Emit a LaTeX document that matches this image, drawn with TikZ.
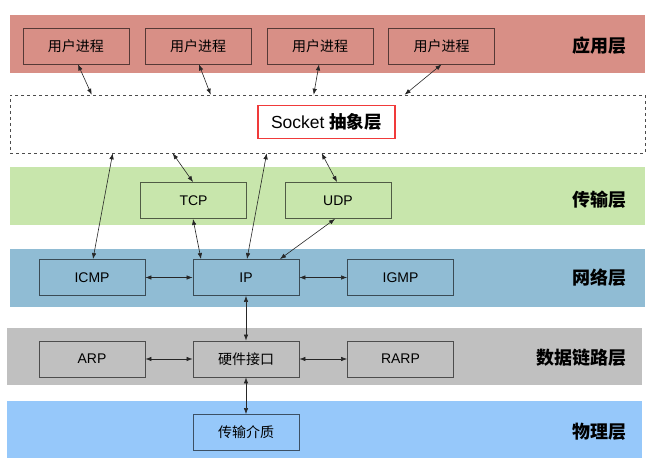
\documentclass[tikz,border=0pt]{standalone}
\usepackage{fontspec}
\setmainfont{Liberation Sans}
\newfontfamily\cjk{Noto Sans CJK SC}
\usetikzlibrary{arrows.meta}
\definecolor{appc}{RGB}{216,143,134}
\definecolor{trac}{RGB}{200,230,172}
\definecolor{netc}{RGB}{144,188,212}
\definecolor{dlc}{RGB}{192,192,192}
\definecolor{phyc}{RGB}{150,200,250}
\definecolor{sockred}{RGB}{240,58,58}
\begin{document}
\begin{tikzpicture}[x=1pt,y=-1pt,
  box/.style={draw=#1!40!black, fill=#1, line width=0.9pt, minimum width=106pt, minimum height=36pt, inner sep=0pt, font=\fontsize{14}{16}\selectfont},
  layer/.style={anchor=east, inner sep=0pt, font=\cjk\bfseries\fontsize{18}{20}\selectfont},
  link/.style={{Latex[length=6pt,width=4.5pt]}-{Latex[length=6pt,width=4.5pt]}, line width=0.6pt, black!85}
]
\useasboundingbox (0,0) rectangle (657,468);
% bands
\fill[appc] (10,15) rectangle (645,73);
\fill[trac] (10,167) rectangle (645,225);
\fill[netc] (10,249) rectangle (645,307);
\fill[dlc] (7,328) rectangle (642,385);
\fill[phyc] (7,401) rectangle (642,458);
% dashed socket layer
\node[draw=black!70, dashed, line width=0.6pt, minimum width=635pt, minimum height=58pt, inner sep=0pt] (dash) at (327.5,124) {};
\node[draw=sockred, fill=white, line width=1.6pt, minimum width=137pt, minimum height=33pt, inner sep=0pt, font=\fontsize{17.5}{20}\selectfont] (sock) at (326.5,122) {Socket {\cjk\bfseries 抽象层}};
% application
\node[box=appc] (u1) at (76,46) {\cjk 用户进程};
\node[box=appc] (u2) at (198,46) {\cjk 用户进程};
\node[box=appc] (u3) at (320,46) {\cjk 用户进程};
\node[box=appc] (u4) at (441.5,46) {\cjk 用户进程};
% transport
\node[box=trac] (tcp) at (193.5,200.5) {TCP};
\node[box=trac] (udp) at (338,200.5) {UDP};
% network
\node[box=netc] (icmp) at (92,277.5) {ICMP};
\node[box=netc] (ip) at (246,277.5) {IP};
\node[box=netc] (igmp) at (400.5,277.5) {IGMP};
% data link
\node[box=dlc] (arp) at (92,359) {ARP};
\node[box=dlc] (hw) at (246,359) {\cjk 硬件接口};
\node[box=dlc] (rarp) at (400.5,359) {RARP};
% physical
\node[box=phyc] (phy) at (246,432.5) {\cjk 传输介质};
% layer labels
\node[layer] (l1) at (627,46) {应用层};
\node[layer] (l2) at (627,200) {传输层};
\node[layer] (l3) at (627,278) {网络层};
\node[layer] (l4) at (627,358) {数据链路层};
\node[layer] (l5) at (627,432) {物理层};
% connectors
\draw[link] ([xshift=2pt]u1.south) -- ([xshift=82pt]dash.north west);
\draw[link] ([xshift=1pt]u2.south) -- ([xshift=201pt]dash.north west);
\draw[link] ([xshift=-1pt]u3.south) -- ([xshift=304pt]dash.north west);
\draw[link] ([xshift=0pt]u4.south) -- ([xshift=395pt]dash.north west);
\draw[link] ([xshift=103pt]dash.south west) -- ([xshift=1pt]icmp.north);
\draw[link] ([xshift=163pt]dash.south west) -- ([xshift=-0.5pt]tcp.north);
\draw[link] ([xshift=257pt]dash.south west) -- ([xshift=1pt]ip.north);
\draw[link] ([xshift=312pt]dash.south west) -- ([xshift=-1pt]udp.north);
\draw[link] ([xshift=-0.5pt]tcp.south) -- ([xshift=-45pt]ip.north);
\draw[link] ([xshift=-3pt]udp.south) -- ([xshift=34pt]ip.north);
\draw[link] (icmp.east) -- (ip.west);
\draw[link] (ip.east) -- (igmp.west);
\draw[link] (ip.south) -- (hw.north);
\draw[link] (arp.east) -- (hw.west);
\draw[link] (hw.east) -- (rarp.west);
\draw[link] (hw.south) -- (phy.north);
\end{tikzpicture}
\end{document}
